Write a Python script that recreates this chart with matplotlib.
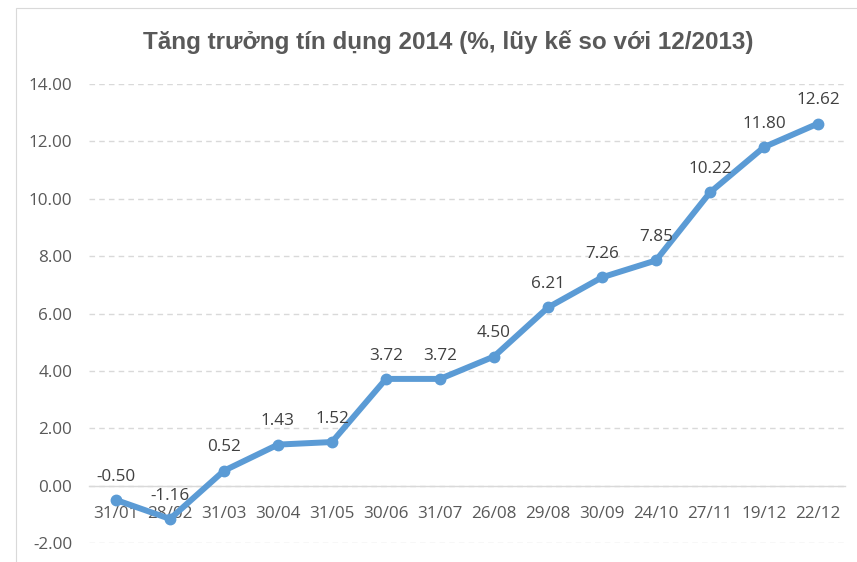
import matplotlib
matplotlib.use("Agg")
import matplotlib.pyplot as plt
from matplotlib.patches import Rectangle

dates = ["31/01", "28/02", "31/03", "30/04", "31/05", "30/06", "31/07",
         "26/08", "29/08", "30/09", "24/10", "27/11", "19/12", "22/12"]
values = [-0.50, -1.16, 0.52, 1.43, 1.52, 3.72, 3.72, 4.50, 6.21, 7.26,
          7.85, 10.22, 11.80, 12.62]
yticks = [-2, 0, 2, 4, 6, 8, 10, 12, 14]
title = "Tăng trưởng tín dụng 2014 (%, lũy kế so với 12/2013)"

title_font = "Liberation Sans"
body_font = "Open Sans"

W, H = 857, 562
fig = plt.figure(figsize=(W / 100, H / 100), dpi=100)
fig.patch.set_facecolor("white")
fig.patches.append(Rectangle((16 / W, -0.1), 1.2, (H - 8) / H + 0.1,
                             transform=fig.transFigure, fill=False,
                             edgecolor="#d9d9d9", lw=0.8))

ax = fig.add_axes([89 / W, (H - 543) / H, (845 - 89) / W, (543 - 84) / H])
x = list(range(len(dates)))
color = "#5B9BD5"
ax.plot(x, values, color=color, lw=4.3, marker="o", ms=7.5,
        solid_capstyle="round", solid_joinstyle="round", zorder=3)

for xi, v in zip(x, values):
    ax.annotate(f"{v:.2f}", (xi, v), xytext=(0, 11), textcoords="offset points",
                ha="center", va="bottom", fontsize=12.3, color="#404040",
                family=body_font, zorder=4)

ax.set_xlim(-0.5, len(dates) - 0.5)
ax.set_ylim(-2, 14)
ax.set_yticks(yticks)
ax.set_yticklabels([f"{t:.2f}" for t in yticks])
ax.set_xticks(x)
ax.set_xticklabels(dates)

for s in ["top", "right", "left"]:
    ax.spines[s].set_visible(False)
ax.spines["bottom"].set_position(("data", 0))
ax.spines["bottom"].set_color("#d9d9d9")
ax.spines["bottom"].set_linewidth(1.0)
ax.tick_params(axis="both", length=0, labelsize=12.3, labelcolor="#595959")
ax.tick_params(axis="y", pad=12)
ax.tick_params(axis="x", pad=15)
for lab in ax.get_xticklabels() + ax.get_yticklabels():
    lab.set_family(body_font)

ax.grid(axis="y", color="#d9d9d9", ls=(0, (4, 3)), lw=1.0)
ax.set_axisbelow(True)

fig.text(448 / W, 1 - 42 / H, title, ha="center", va="center",
         fontsize=17.5, fontweight="bold", color="#595959", family=title_font)

fig.savefig("out.png", dpi=100, facecolor="white")
